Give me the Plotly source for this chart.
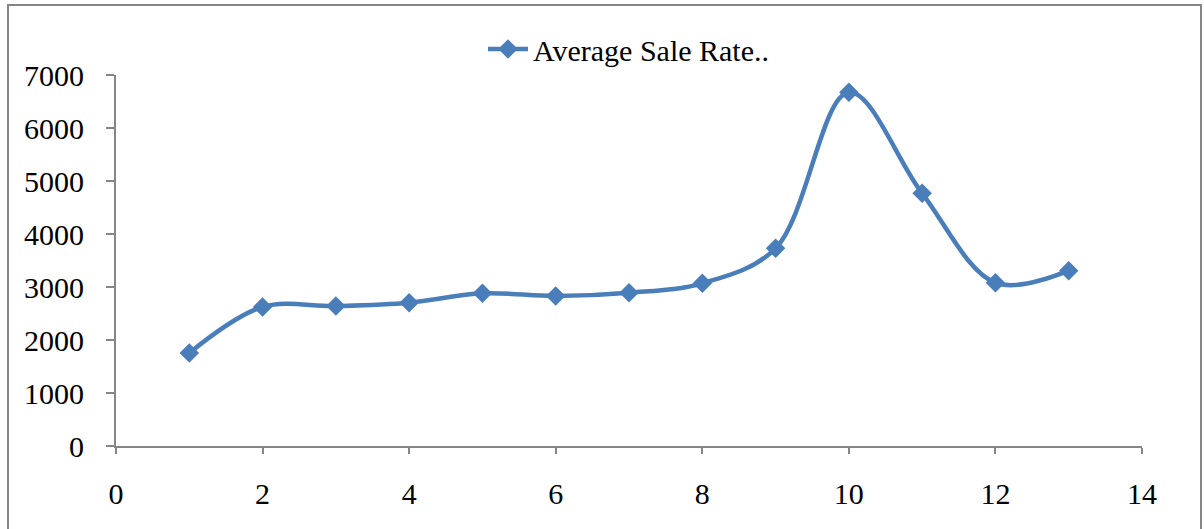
import plotly.graph_objects as go

x_vals = [1, 2, 3, 4, 5, 6, 7, 8, 9, 10, 11, 12, 13]
sale_rate = [1755, 2623, 2640, 2704, 2881, 2830, 2892, 3070, 3730, 6674, 4768, 3081, 3308]
series_name = "Average Sale Rate.."
x_ticks = [0, 2, 4, 6, 8, 10, 12, 14]
y_ticks = [0, 1000, 2000, 3000, 4000, 5000, 6000, 7000]

W, H = 1204, 529
L, R, T, B = 116, 62, 75, 83
pw, ph = W - L - R, H - T - B

fig = go.Figure()
fig.add_trace(go.Scatter(
    x=x_vals, y=sale_rate, name=series_name,
    mode="lines+markers",
    line=dict(color="#4a7ebb", width=4.5, shape="spline", smoothing=1.0),
    marker=dict(symbol="diamond", size=15, color="#4a7ebb"),
    showlegend=True,
))

axis_col = "#868686"
font = dict(family="Liberation Serif", size=30, color="#000000")

fig.update_layout(
    width=W, height=H,
    margin=dict(l=L, r=R, t=T, b=B),
    paper_bgcolor="white", plot_bgcolor="white",
    font=font,
    showlegend=True,
    legend=dict(orientation="h", x=0.5, xanchor="center", y=1.0, yanchor="bottom",
                font=font, bgcolor="rgba(0,0,0,0)", itemwidth=40),
    xaxis=dict(range=[0, 14], tickvals=x_ticks, showgrid=False, zeroline=False,
               showline=True, linecolor=axis_col, linewidth=2,
               ticks="outside", ticklen=6, tickcolor=axis_col, tickwidth=2,
               ticklabelstandoff=14, tickfont=font),
    yaxis=dict(range=[0, 7000], tickvals=y_ticks, showgrid=False, zeroline=False,
               showline=True, linecolor=axis_col, linewidth=2,
               ticks="outside", ticklen=8, tickcolor=axis_col, tickwidth=2,
               ticklabelstandoff=16, tickfont=font),
)

# outer chart border
fig.add_shape(type="rect", xref="paper", yref="paper",
              x0=(8 - L) / pw, x1=(1201 - L) / pw,
              y0=(H - B - 540) / ph, y1=(H - B - 5) / ph,
              line=dict(color=axis_col, width=2), fillcolor="rgba(0,0,0,0)", layer="below")

fig.write_html("out.html", config={"displayModeBar": False},
               post_script="document.body.style.margin='0';")
